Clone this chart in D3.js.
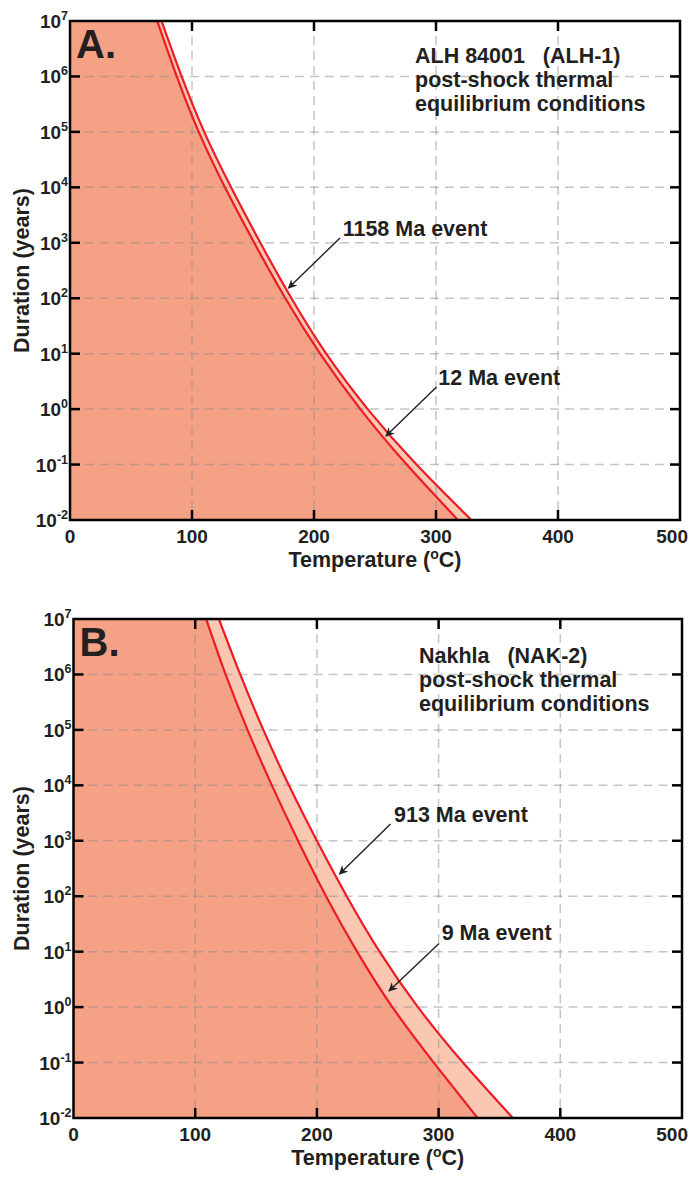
<!DOCTYPE html>
<html>
<head>
<meta charset="utf-8">
<script src="https://cdn.jsdelivr.net/npm/d3@7"></script>
<style>
  html, body { margin: 0; padding: 0; background: #fff; }
  svg { display: block; }
  text { font-family: "Liberation Sans", Arial, Helvetica, sans-serif; font-weight: bold; fill: #231f20; }
</style>
</head>
<body>
<svg id="chart" width="689" height="1181"></svg>
<script>
// ---------------- data ----------------
const durations = [1e7, 1e6, 1e5, 1e4, 1e3, 1e2, 1e1, 1e0, 1e-1, 1e-2];   // years
const yExponents = [7, 6, 5, 4, 3, 2, 1, 0, -1, -2];
const xTicks = [0, 100, 200, 300, 400, 500];

// Panel A: ALH 84001 (ALH-1) — temperature (°C) reached at each duration
const alh12Ma   = [71.5, 87.5, 105.5, 127, 151, 176.5, 205, 238, 276, 318];
const alh1158Ma = [75, 91.5, 110, 132, 156, 181.5, 210, 244, 284, 329];

// Panel B: Nakhla (NAK-2)
const nak9Ma    = [109, 125, 143, 163, 184.5, 207.5, 233, 262, 296, 332];
const nak913Ma  = [119.5, 137, 156, 177, 200, 224.5, 251.5, 283, 320, 361];

const panels = [
  { letter: "A.", title: ["ALH 84001   (ALH-1)", "post-shock thermal", "equilibrium conditions"],
    inner: alh12Ma, outer: alh1158Ma,
    labelOuter: "1158 Ma event", labelInner: "12 Ma event",
    box: { left: 70, right: 680, top: 21, bottom: 520 },
    titlePos: [415, 63],
    annOuter: { text: [342.7, 235.7], from: [340, 238], to: [288.5, 288] },
    annInner: { text: [438.3, 385], from: [436.5, 387], to: [386, 436] } },
  { letter: "B.", title: ["Nakhla   (NAK-2)", "post-shock thermal", "equilibrium conditions"],
    inner: nak9Ma, outer: nak913Ma,
    labelOuter: "913 Ma event", labelInner: "9 Ma event",
    box: { left: 73.5, right: 682, top: 619, bottom: 1118 },
    titlePos: [419, 663],
    annOuter: { text: [394, 821.7], from: [390.5, 824], to: [339.5, 874] },
    annInner: { text: [441.7, 940], from: [439, 943.5], to: [389, 991] } }
];

// ---------------- styles ----------------
const C_FILL = "#f5a185", C_BAND = "#fac7b2", C_LINE = "#ed1c24", C_INK = "#231f20";
const F_TICK = 19, F_EXP = 12.5, F_AXIS = 21.5, F_ANN = 21.5;

const svg = d3.select("#chart");
const defs = svg.append("defs");
defs.append("marker")
  .attr("id", "arrow").attr("viewBox", "0 0 10 10").attr("refX", 9).attr("refY", 5)
  .attr("markerWidth", 9).attr("markerHeight", 9).attr("markerUnits", "userSpaceOnUse")
  .attr("orient", "auto")
  .append("path").attr("d", "M0,0 L10,5 L0,10 L3,5 Z").attr("fill", C_INK);

panels.forEach((p, i) => {
  const b = p.box;
  const x = d3.scaleLinear().domain([0, 500]).range([b.left, b.right]);
  const y = d3.scaleLog().domain([1e-2, 1e7]).range([b.bottom, b.top]);
  const g = svg.append("g");

  const clipId = "clip" + i;
  defs.append("clipPath").attr("id", clipId)
    .append("rect").attr("x", b.left).attr("y", b.top)
    .attr("width", b.right - b.left).attr("height", b.bottom - b.top);

  const rows = durations.map((d, k) => ({ d, tin: p.inner[k], tout: p.outer[k] }));
  const plot = g.append("g").attr("clip-path", `url(#${clipId})`);
  const crv = d3.curveNatural;

  // salmon region (left of inner curve)
  plot.append("path").datum(rows)
    .attr("d", d3.area().curve(crv)
      .y(r => y(r.d)).x0(x(0) - 5).x1(r => x(r.tin)))
    .attr("fill", C_FILL);
  // light band between the two curves
  plot.append("path").datum(rows)
    .attr("d", d3.area().curve(crv)
      .y(r => y(r.d)).x0(r => x(r.tin)).x1(r => x(r.tout)))
    .attr("fill", C_BAND);

  // grid
  const grid = plot.append("g").attr("stroke", "#8c8c8c").attr("stroke-opacity", 0.5)
    .attr("stroke-width", 1.5).attr("stroke-dasharray", "9,6").attr("fill", "none");
  xTicks.filter(t => t > 0 && t < 500).forEach(t => {
    grid.append("line").attr("x1", x(t)).attr("x2", x(t)).attr("y1", b.top).attr("y2", b.bottom);
  });
  durations.filter(d => d < 1e7 && d > 1e-2).forEach(d => {
    grid.append("line").attr("x1", b.left).attr("x2", b.right).attr("y1", y(d)).attr("y2", y(d));
  });

  // curves
  const line = key => d3.line().curve(crv).y(r => y(r.d)).x(r => x(r[key]));
  plot.append("path").datum(rows).attr("d", line("tin"))
    .attr("fill", "none").attr("stroke", C_LINE).attr("stroke-width", 2.2);
  plot.append("path").datum(rows).attr("d", line("tout"))
    .attr("fill", "none").attr("stroke", C_LINE).attr("stroke-width", 2.2);

  // ticks
  const ticks = g.append("g").attr("stroke", "#000").attr("stroke-width", 2.5);
  xTicks.filter(t => t > 0 && t < 500).forEach(t => {
    ticks.append("line").attr("x1", x(t)).attr("x2", x(t)).attr("y1", b.bottom).attr("y2", b.bottom - 10);
    ticks.append("line").attr("x1", x(t)).attr("x2", x(t)).attr("y1", b.top).attr("y2", b.top + 10);
  });
  durations.filter(d => d < 1e7 && d > 1e-2).forEach(d => {
    ticks.append("line").attr("x1", b.left).attr("x2", b.left + 10).attr("y1", y(d)).attr("y2", y(d));
    ticks.append("line").attr("x1", b.right).attr("x2", b.right - 10).attr("y1", y(d)).attr("y2", y(d));
  });

  // frame
  g.append("rect").attr("x", b.left).attr("y", b.top)
    .attr("width", b.right - b.left).attr("height", b.bottom - b.top)
    .attr("fill", "none").attr("stroke", "#000").attr("stroke-width", 2.5);

  // x tick labels
  xTicks.forEach(t => {
    const last = t === 500;
    g.append("text").attr("x", last ? 688 : x(t)).attr("y", b.bottom + 23)
      .attr("text-anchor", last ? "end" : "middle")
      .attr("font-size", F_TICK).text(t);
  });

  // y tick labels 10^n
  durations.forEach((d, k) => {
    const t = g.append("text").attr("x", b.left - 2).attr("y", y(d) + 7)
      .attr("text-anchor", "end").attr("font-size", F_TICK);
    t.append("tspan").text("10");
    t.append("tspan").attr("dy", -8).attr("font-size", F_EXP).text(yExponents[k]);
  });

  // axis titles
  const xt = g.append("text").attr("x", (b.left + b.right) / 2).attr("y", b.bottom + 47)
    .attr("text-anchor", "middle").attr("font-size", F_AXIS);
  xt.append("tspan").text("Temperature (");
  xt.append("tspan").attr("dy", -8).attr("font-size", 14).text("o");
  xt.append("tspan").attr("dy", 8).text("C)");

  g.append("text")
    .attr("transform", `translate(29,${(b.top + b.bottom) / 2}) rotate(-90)`)
    .attr("text-anchor", "middle").attr("font-size", F_AXIS).text("Duration (years)");

  // panel letter
  g.append("text").attr("x", b.left + 6).attr("y", b.top + 37)
    .attr("font-size", 40).text(p.letter);

  // title block
  p.title.forEach((s, k) => {
    g.append("text").attr("x", p.titlePos[0]).attr("y", p.titlePos[1] + k * 24)
      .attr("font-size", F_ANN).attr("xml:space", "preserve").style("white-space", "pre").text(s);
  });

  // annotations
  [[p.annOuter, p.labelOuter], [p.annInner, p.labelInner]].forEach(([a, label]) => {
    g.append("text").attr("x", a.text[0]).attr("y", a.text[1]).attr("font-size", F_ANN).text(label);
    g.append("line").attr("x1", a.from[0]).attr("y1", a.from[1])
      .attr("x2", a.to[0]).attr("y2", a.to[1])
      .attr("stroke", C_INK).attr("stroke-width", 1.4).attr("marker-end", "url(#arrow)");
  });
});
</script>
</body>
</html>
